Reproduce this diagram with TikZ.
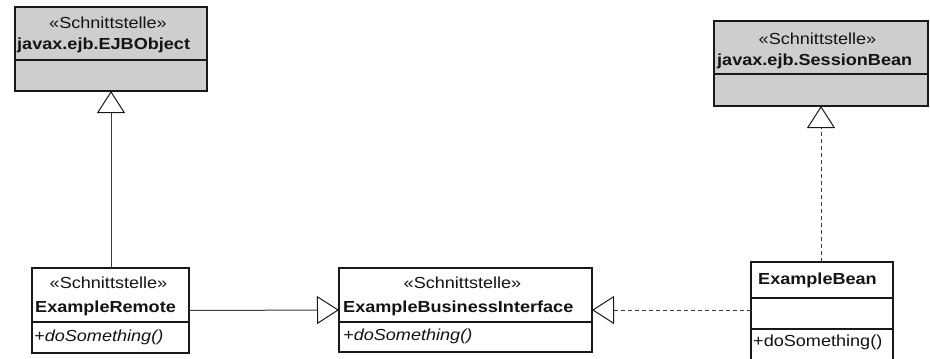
\documentclass[tikz,border=0pt]{standalone}
\usepackage{fontspec}
\setmainfont{Liberation Sans}[FakeStretch=1.13]
\usetikzlibrary{arrows.meta}
\definecolor{ifacegrey}{RGB}{206,206,206}
\definecolor{edgecol}{RGB}{25,25,25}
\definecolor{linkcol}{RGB}{60,60,60}
\begin{document}
\begin{tikzpicture}[x=1pt,y=-1pt,
  classbox/.style={draw=edgecol, line width=1.4pt, fill=white, inner sep=0pt, outer sep=0pt, anchor=north west},
  ifacebox/.style={classbox, fill=ifacegrey},
  divider/.style={draw=edgecol, line width=1.2pt},
  txt/.style={inner sep=0pt, font=\fontsize{16}{19}\selectfont, text=black!92},
  stereo/.style={txt},
  cname/.style={txt, font=\fontsize{16}{19}\selectfont\bfseries},
  oper/.style={txt, anchor=west},
  generalize/.style={draw=linkcol, line width=1pt, -{Triangle[open, length=22pt, width=28pt, line width=1pt, color=black!90]}},
  realize/.style={generalize, dash pattern=on 4pt off 3pt}
]
\useasboundingbox (0,0) rectangle (930,359);

% javax.ejb.EJBObject
\node[ifacebox, minimum width=192pt, minimum height=84pt] (ejb) at (15,7) {};
\draw[divider] ([yshift=-53pt]ejb.north west) -- ([yshift=-53pt]ejb.north east);
\node[stereo] (ejbst) at (108,23) {«Schnittstelle»};
\node[cname, anchor=west] (ejbnm) at (17,45) {javax.ejb.EJBObject};

% javax.ejb.SessionBean
\node[ifacebox, minimum width=214pt, minimum height=85pt] (sb) at (714,21) {};
\draw[divider] ([yshift=-53pt]sb.north west) -- ([yshift=-53pt]sb.north east);
\node[stereo] (sbst) at (817.5,39) {«Schnittstelle»};
\node[cname, anchor=west] (sbnm) at (717,61) {javax.ejb.SessionBean};

% ExampleRemote
\node[classbox, minimum width=157pt, minimum height=85pt] (remote) at (32,268) {};
\draw[divider] ([yshift=-54pt]remote.north west) -- ([yshift=-54pt]remote.north east);
\node[stereo] (remst) at (108.5,283) {«Schnittstelle»};
\node[cname, anchor=west] (remnm) at (35,308) {ExampleRemote};
\node[oper] (remop) at (34,337) {\itshape +doSomething()};

% ExampleBusinessInterface
\node[classbox, minimum width=253pt, minimum height=84pt] (bi) at (339,268) {};
\draw[divider] ([yshift=-54pt]bi.north west) -- ([yshift=-54pt]bi.north east);
\node[stereo] (bist) at (462.5,283) {«Schnittstelle»};
\node[cname, anchor=west] (binm) at (343,308) {ExampleBusinessInterface};
\node[oper] (biop) at (343,336) {\itshape +doSomething()};

% ExampleBean (lower edge runs past the page)
\node[classbox, minimum width=142pt, minimum height=100pt] (bean) at (751,262) {};
\draw[divider] ([yshift=-36pt]bean.north west) -- ([yshift=-36pt]bean.north east);
\draw[divider] ([yshift=-67pt]bean.north west) -- ([yshift=-67pt]bean.north east);
\node[cname] (beannm) at (817.5,280) {ExampleBean};
\node[oper] (beanop) at (753,342) {+doSomething()};

% generalizations and realizations
\draw[generalize] (ejb.south |- remote.north) -- (ejb.south);
\draw[generalize] (remote.east) -- (bi.west);
\draw[realize] (bean.west |- bi.east) -- (bi.east);
\draw[realize] (sb.south |- bean.north) -- (sb.south);
\end{tikzpicture}
\end{document}
